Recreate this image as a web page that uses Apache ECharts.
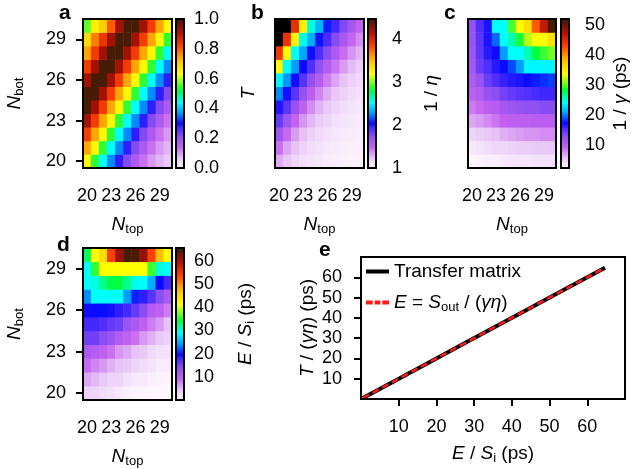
<!DOCTYPE html>
<html>
<head>
<meta charset="utf-8">
<title>Heatmaps and transfer matrix check</title>
<script src="https://cdn.jsdelivr.net/npm/echarts@6/dist/echarts.min.js"></script>
<style>
  html, body { margin: 0; padding: 0; background: #fff; }
  #chart { width: 640px; height: 469px; }
</style>
</head>
<body>
<div id="chart"></div>
<script>
// N_top (columns) and N_bot (rows), both 20..30
const nTop = ['20', '21', '22', '23', '24', '25', '26', '27', '28', '29', '30'];
const nBot = ['20', '21', '22', '23', '24', '25', '26', '27', '28', '29', '30'];

// panel a: T, rows from N_bot = 20 upward
const transRows = [
  [0.64, 0.54, 0.44, 0.36, 0.28, 0.22, 0.17, 0.13, 0.10, 0.08, 0.06],
  [0.74, 0.64, 0.54, 0.44, 0.36, 0.28, 0.22, 0.17, 0.13, 0.10, 0.08],
  [0.83, 0.74, 0.64, 0.54, 0.44, 0.36, 0.28, 0.22, 0.17, 0.13, 0.10],
  [0.92, 0.83, 0.74, 0.64, 0.54, 0.44, 0.36, 0.28, 0.22, 0.17, 0.13],
  [0.99, 0.92, 0.83, 0.74, 0.64, 0.54, 0.44, 0.36, 0.28, 0.22, 0.17],
  [0.99, 0.99, 0.92, 0.83, 0.74, 0.64, 0.54, 0.44, 0.36, 0.28, 0.22],
  [0.92, 0.99, 0.99, 0.92, 0.83, 0.74, 0.64, 0.54, 0.44, 0.36, 0.28],
  [0.83, 0.92, 0.99, 0.99, 0.92, 0.83, 0.74, 0.64, 0.54, 0.44, 0.36],
  [0.74, 0.83, 0.92, 0.99, 0.99, 0.92, 0.83, 0.74, 0.64, 0.54, 0.44],
  [0.68, 0.77, 0.84, 0.92, 0.99, 0.99, 0.92, 0.83, 0.74, 0.64, 0.54],
  [0.56, 0.65, 0.70, 0.80, 0.92, 0.99, 0.99, 0.92, 0.83, 0.74, 0.64]
];

// panel b: 1/eta
const invEtaRows = [
  [1.30, 1.22, 1.16, 1.12, 1.09, 1.07, 1.05, 1.04, 1.03, 1.02, 1.02],
  [1.45, 1.32, 1.24, 1.17, 1.13, 1.10, 1.07, 1.06, 1.04, 1.03, 1.03],
  [1.65, 1.47, 1.34, 1.25, 1.18, 1.14, 1.10, 1.08, 1.06, 1.05, 1.04],
  [1.85, 1.67, 1.49, 1.36, 1.27, 1.20, 1.15, 1.11, 1.09, 1.07, 1.05],
  [2.00, 1.87, 1.69, 1.51, 1.38, 1.28, 1.21, 1.16, 1.12, 1.09, 1.07],
  [2.25, 2.02, 1.88, 1.70, 1.53, 1.40, 1.30, 1.22, 1.17, 1.13, 1.10],
  [2.50, 2.27, 2.03, 1.89, 1.72, 1.55, 1.42, 1.32, 1.24, 1.18, 1.14],
  [3.20, 2.52, 2.28, 2.04, 1.90, 1.73, 1.57, 1.44, 1.34, 1.26, 1.20],
  [3.90, 3.22, 2.54, 2.30, 2.05, 1.91, 1.75, 1.59, 1.46, 1.36, 1.28],
  [5.00, 3.92, 3.24, 2.56, 2.32, 2.06, 1.92, 1.76, 1.61, 1.48, 1.38],
  [6.00, 5.00, 3.94, 3.26, 2.58, 2.34, 2.07, 1.93, 1.77, 1.63, 1.50]
];

// panel c: 1/gamma (ps)
const invGammaRows = [
  [2.5, 2.8, 3.1, 3.1, 3.4, 3.6, 3.6, 3.6, 3.9, 3.9, 3.9],
  [3.4, 3.8, 4.3, 4.6, 4.6, 4.9, 5.2, 5.2, 5.5, 5.5, 5.6],
  [4.8, 5.2, 5.6, 6.0, 6.6, 7.0, 7.3, 7.6, 7.6, 7.9, 7.9],
  [7.0, 7.4, 8.0, 8.8, 9.6, 10.0, 10.0, 10.0, 10.2, 10.2, 10.2],
  [8.6, 9.2, 10.0, 10.4, 11.5, 12.0, 12.4, 12.8, 12.8, 13.2, 13.2],
  [10.0, 10.8, 12.4, 13.0, 14.0, 14.6, 15.0, 15.3, 15.6, 15.8, 15.8],
  [10.8, 12.4, 14.4, 15.4, 16.1, 16.6, 16.9, 17.3, 17.8, 18.2, 18.6],
  [11.5, 14.4, 15.4, 16.6, 17.3, 18.8, 20.8, 24.0, 24.0, 24.0, 24.0],
  [12.0, 14.8, 16.5, 17.3, 20.8, 24.3, 24.3, 25.8, 28.2, 29.5, 30.7],
  [12.4, 15.0, 16.9, 19.5, 24.3, 26.0, 28.8, 32.2, 33.7, 33.7, 35.8],
  [12.4, 15.4, 16.9, 24.3, 24.3, 29.7, 33.7, 36.2, 42.1, 46.5, 51.5]
];

// panel d: E/S_i (ps)
const energyRows = [
  [3.3, 3.0, 2.3, 2.0, 1.2, 0.7, 0.3, 0.2, 0.1, 0.1, 0.1],
  [5.9, 5.0, 4.0, 3.0, 3.0, 2.0, 1.2, 1.2, 0.7, 0.4, 0.3],
  [8.8, 7.5, 6.6, 5.4, 4.6, 4.0, 3.0, 2.3, 1.8, 1.0, 1.0],
  [11.5, 10.5, 9.5, 8.5, 6.6, 5.9, 4.6, 4.0, 2.6, 2.0, 1.8],
  [15.4, 15.4, 14.0, 12.8, 10.8, 9.5, 8.5, 6.6, 5.4, 4.0, 3.3],
  [17.5, 17.5, 17.0, 16.0, 15.4, 12.8, 11.5, 9.5, 7.9, 6.6, 4.6],
  [19.5, 19.7, 19.7, 19.3, 18.3, 17.5, 16.0, 14.0, 10.5, 9.5, 7.9],
  [23.6, 28.8, 28.8, 28.8, 28.8, 24.2, 20.3, 18.3, 16.7, 14.0, 11.5],
  [28.8, 29.5, 32.0, 34.0, 34.0, 32.0, 29.5, 28.8, 24.9, 19.7, 17.5],
  [28.8, 35.4, 41.3, 41.3, 41.3, 41.3, 41.3, 41.3, 35.7, 29.8, 28.8],
  [33.4, 41.3, 44.5, 53.7, 60.6, 64.8, 64.8, 61.0, 53.7, 47.2, 41.3]
];

// panel e: T/(gamma eta) against E/S_i
const eX = [0.5, 4.6, 11.5, 19.5, 28.8, 41.3, 53.7, 64.7];
const eTransfer = [0.5, 4.6, 11.5, 19.5, 28.8, 41.3, 53.7, 64.7];
const eFormula = [0.5, 4.6, 11.5, 19.5, 28.8, 41.3, 53.7, 64.7];

const FONT = 'Liberation Sans';

// colormap: light pink -> violet -> blue -> cyan -> green -> yellow -> red -> dark brown
const cmapStops = [
  [0.00, '#fdf7fd'], [0.07, '#e6c2f6'], [0.14, '#c462f0'], [0.21, '#9050f2'],
  [0.26, '#5030ff'], [0.30, '#0a0aff'], [0.37, '#00a0ff'], [0.44, '#00ffff'],
  [0.52, '#00ff40'], [0.63, '#ffff00'], [0.72, '#ffc000'], [0.82, '#ff4000'],
  [0.91, '#b01000'], [1.00, '#3a1e05']
];

function hexRgb(h) {
  return [1, 3, 5].map(i => parseInt(h.slice(i, i + 2), 16));
}
function sampleCmap(n) {
  const out = [];
  for (let k = 0; k < n; k++) {
    const t = k / (n - 1);
    let j = 0;
    while (j < cmapStops.length - 2 && t > cmapStops[j + 1][0]) j++;
    const [t0, c0] = cmapStops[j], [t1, c1] = cmapStops[j + 1];
    const f = Math.min(1, Math.max(0, (t - t0) / (t1 - t0)));
    const a = hexRgb(c0), b = hexRgb(c1);
    out.push('rgb(' + a.map((v, i) => Math.round(v + (b[i] - v) * f)).join(',') + ')');
  }
  return out;
}
const cmapColors = sampleCmap(101);
const barGradient = {
  type: 'linear', x: 0, y: 1, x2: 0, y2: 0,
  colorStops: cmapStops.map(s => ({ offset: s[0], color: s[1] }))
};

const rich = {
  i: { fontStyle: 'italic', fontSize: 19, fontFamily: FONT, color: '#000' },
  s: { fontSize: 13, fontFamily: FONT, color: '#000', padding: [9, 0, 0, 0] },
  n: { fontSize: 19, fontFamily: FONT, color: '#000' }
};
const tickStyle = { color: '#000', width: 2 };
const labelStyle = { fontSize: 18, color: '#000', fontFamily: FONT };

const grids = [], xAxes = [], yAxes = [], series = [], visualMaps = [], titles = [];

function frameGrid(left, top, width, height) {
  grids.push({ left, top, width, height, show: true, borderColor: '#000', borderWidth: 2,
    backgroundColor: 'transparent', z: 10 });
  return grids.length - 1;
}

function heatPanel(rect, rows, withY) {
  const g = frameGrid(rect[0], rect[1], rect[2], rect[3]);
  xAxes.push({
    gridIndex: g, type: 'category', data: nTop,
    axisLine: { show: false }, splitLine: { show: false },
    axisTick: { alignWithLabel: true, interval: 2, length: 7, lineStyle: tickStyle },
    axisLabel: Object.assign({ interval: 2, margin: 19 }, labelStyle),
    name: '{i|N}{s|top}', nameLocation: 'middle', nameGap: 46,
    nameTextStyle: { rich }
  });
  yAxes.push({
    gridIndex: g, type: 'category', data: nBot,
    axisLine: { show: false }, splitLine: { show: false },
    axisTick: { show: withY, alignWithLabel: true, interval: 2, length: 7, lineStyle: tickStyle },
    axisLabel: Object.assign({ show: withY, interval: 2, margin: 17 }, labelStyle),
    name: withY ? '{i|N}{s|bot}' : '', nameLocation: 'middle', nameGap: 57, nameRotate: 90,
    nameTextStyle: { rich }
  });
  const data = [];
  rows.forEach((row, r) => row.forEach((v, c) => data.push([c, r, v])));
  series.push({ type: 'heatmap', xAxisIndex: g, yAxisIndex: g, data, silent: true });
  return series.length - 1;
}

function colorBar(rect, vmin, vmax, ticks, fmt, name, gap, margin) {
  const g = frameGrid(rect[0], rect[1], rect[2], rect[3]);
  xAxes.push({ gridIndex: g, type: 'value', min: 0, max: 1, show: false });
  yAxes.push({
    gridIndex: g, type: 'value', position: 'right', min: vmin, max: vmax,
    axisLine: { show: false }, splitLine: { show: false },
    axisTick: { customValues: ticks, length: 7, lineStyle: tickStyle },
    axisLabel: Object.assign({ customValues: ticks, margin, formatter: fmt }, labelStyle),
    name, nameLocation: 'middle', nameRotate: 90, nameGap: gap,
    nameTextStyle: { rich, fontSize: 19, fontFamily: FONT, color: '#000' }
  });
  series.push({
    type: 'custom', xAxisIndex: g, yAxisIndex: g, silent: true,
    data: [[0, vmin, 1, vmax]],
    renderItem(params, api) {
      const p0 = api.coord([api.value(0), api.value(1)]);
      const p1 = api.coord([api.value(2), api.value(3)]);
      return { type: 'rect', shape: { x: p0[0], y: p1[1], width: p1[0] - p0[0], height: p0[1] - p1[1] },
        style: { fill: barGradient } };
    }
  });
}

// top row
const sa = heatPanel([83, 19, 89, 149], transRows, true);
colorBar([176, 19, 8, 149], 0, 1, [0, 0.2, 0.4, 0.6, 0.8, 1.0], v => v.toFixed(1), '{i|T}', 55, 10);
const sb = heatPanel([275, 19, 89, 149], invEtaRows, false);
colorBar([368, 19, 8, 149], 1, 4.47, [1, 2, 3, 4], v => String(v), '1 / {i|η}', 46, 16);
const sc = heatPanel([468, 19, 88, 149], invGammaRows, false);
colorBar([561, 19, 8, 149], 2.5, 52, [10, 20, 30, 40, 50], v => String(v), '1 / {i|γ} (ps)', 42, 16);
// bottom row
const sd = heatPanel([83, 248, 89, 152], energyRows, true);
colorBar([176, 248, 8, 152], 0, 65.5, [10, 20, 30, 40, 50, 60], v => String(v), '{i|E} / {i|S}{s|i} (ps)', 51, 10);

visualMaps.push(
  { type: 'continuous', show: false, seriesIndex: sa, min: 0, max: 1, inRange: { color: cmapColors } },
  { type: 'continuous', show: false, seriesIndex: sb, min: 1, max: 4.47, range: [1, 4.46],
    inRange: { color: cmapColors }, outOfRange: { color: '#000' } },
  { type: 'continuous', show: false, seriesIndex: sc, min: 2.5, max: 52, inRange: { color: cmapColors } },
  { type: 'continuous', show: false, seriesIndex: sd, min: 0, max: 65.5, inRange: { color: cmapColors } }
);

// panel e
const ge = frameGrid(361, 257, 264, 142);
const eTicks = [10, 20, 30, 40, 50, 60];
xAxes.push({
  gridIndex: ge, type: 'value', min: 0, max: 70,
  axisLine: { show: false }, splitLine: { show: false },
  axisTick: { customValues: eTicks, length: 7, lineStyle: tickStyle },
  axisLabel: Object.assign({ customValues: eTicks, margin: 19 }, labelStyle),
  name: '{i|E} / {i|S}{s|i} (ps)', nameLocation: 'middle', nameGap: 44,
  nameTextStyle: { rich, fontSize: 19, fontFamily: FONT, color: '#000' }
});
yAxes.push({
  gridIndex: ge, type: 'value', min: 0, max: 70,
  axisLine: { show: false }, splitLine: { show: false },
  axisTick: { customValues: eTicks, length: 7, lineStyle: tickStyle },
  axisLabel: Object.assign({ customValues: eTicks, margin: 19 }, labelStyle),
  name: '{i|T} / ({i|γη}) (ps)', nameLocation: 'middle', nameRotate: 90, nameGap: 44,
  nameTextStyle: { rich, fontSize: 19, fontFamily: FONT, color: '#000' }
});
series.push(
  { name: 'Transfer matrix', type: 'line', xAxisIndex: ge, yAxisIndex: ge, symbol: 'none',
    data: eX.map((x, i) => [x, eTransfer[i]]), lineStyle: { color: '#000', width: 4 }, itemStyle: { color: '#000' }, z: 3 },
  { name: 'formula', type: 'line', xAxisIndex: ge, yAxisIndex: ge, symbol: 'none',
    data: eX.map((x, i) => [x, eFormula[i]]), lineStyle: { color: '#ff1a1a', width: 2.5, type: [7, 4] },
    itemStyle: { color: '#ff1a1a' }, z: 4 }
);

[['a', 59, 3], ['b', 251, 3], ['c', 444, 3], ['d', 57, 235], ['e', 319, 240]].forEach(([t, l, tp]) => {
  titles.push({ text: t, left: l, top: tp, padding: 0,
    textStyle: { fontSize: 21, fontWeight: 'bold', color: '#000', fontFamily: FONT } });
});

const chart = echarts.init(document.getElementById('chart'), null, { renderer: 'canvas' });
chart.setOption({
  animation: false,
  backgroundColor: '#fff',
  textStyle: { fontFamily: FONT, color: '#000' },
  title: titles,
  grid: grids,
  xAxis: xAxes,
  yAxis: yAxes,
  visualMap: visualMaps,
  legend: {
    data: [
      { name: 'Transfer matrix', icon: 'rect' },
      { name: 'formula', icon: 'path://M0,0h7v4h-7z M9,0h6v4h-6z M17,0h7v4h-7z' }
    ],
    orient: 'vertical', left: 366, top: 262,
    itemWidth: 23, itemHeight: 4, itemGap: 12, padding: 0,
    textStyle: { fontSize: 19, color: '#000', fontFamily: FONT, rich },
    formatter: n => n === 'formula' ? '{i|E} = {i|S}{s|out} / ({i|γη})' : n
  },
  series
});
</script>
</body>
</html>
